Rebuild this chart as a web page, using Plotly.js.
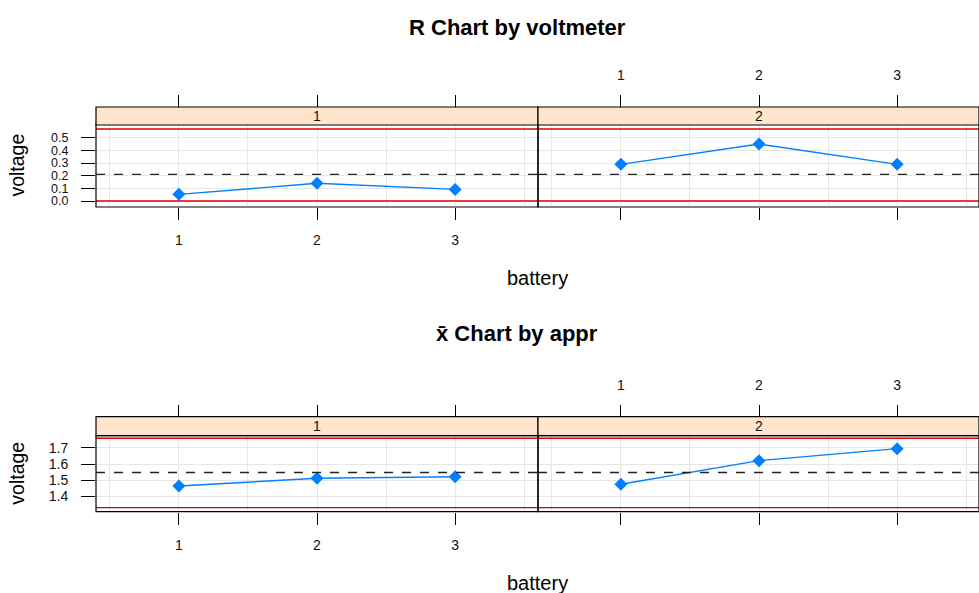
<!DOCTYPE html>
<html>
<head>
<meta charset="utf-8">
<script src="https://cdn.plot.ly/plotly-3.0.1.min.js"></script>
<style>html,body{margin:0;padding:0;background:#fff}#chart{width:979px;height:593px}</style>
</head>
<body>
<div id="chart"></div>
<script>
// ---- data ----
const battery = [1, 2, 3];
const panelLabels = ['1', '2'];
// R chart by voltmeter
const rangeVolt1 = [0.053, 0.14, 0.092];
const rangeVolt2 = [0.29, 0.45, 0.29];
const rCenter = 0.211;
const rUCL = 0.569;
const rLCL = 0.0;
const rTicks = [0.0, 0.1, 0.2, 0.3, 0.4, 0.5];
// x-bar chart by appr
const meanAppr1 = [1.465, 1.512, 1.522];
const meanAppr2 = [1.475, 1.621, 1.695];
const xCenter = 1.548;
const xUCL = 1.759;
const xLCL = 1.331;
const xbarTicks = [1.4, 1.5, 1.6, 1.7];

// ---- layout helpers ----
const W = 979, H = 593;
const px = v => v / W;
const py = v => 1 - v / H;
const FONT = 'Liberation Sans, Arial, sans-serif';
const unit = (538 - 96) / 3.2;
const xRange1 = [0.4, 3.6];
const xRange2 = [0.4, 0.4 + (W - 538) / unit];
const dom1 = [px(96), px(538)];
const dom2 = [px(538), 1];
const GRID = '#e6e6e6';

function baseX(domain, range, anchor, labels) {
  return {
    domain: domain, range: range, anchor: anchor, fixedrange: true,
    tickvals: battery, ticktext: battery.map(String), showticklabels: labels,
    ticks: 'outside', ticklen: 12, tickwidth: 1, tickcolor: '#000',
    ticklabelstandoff: 8,
    showgrid: true, gridcolor: GRID, gridwidth: 1, zeroline: false, showline: false,
    minor: {tick0: 0.5, dtick: 0.5, showgrid: true, gridcolor: GRID, gridwidth: 1, ticks: ''},
    tickfont: {family: FONT, size: 14, color: '#111'}
  };
}
function topX(over, pos, labels) {
  return {
    overlaying: over, anchor: 'free', position: pos, side: 'top', fixedrange: true,
    range: over === 'x' || over === 'x3' ? xRange1 : xRange2,
    tickvals: battery, ticktext: battery.map(String), showticklabels: labels,
    ticks: 'outside', ticklen: 12, tickwidth: 1, tickcolor: '#000',
    ticklabelstandoff: 9,
    showgrid: false, zeroline: false, showline: false,
    tickfont: {family: FONT, size: 14, color: '#111'}
  };
}
function baseY(domain, range, anchor, ticks, fsize) {
  return {
    domain: domain, range: range, anchor: anchor, fixedrange: true,
    tickvals: ticks, tickformat: '.1f',
    ticks: 'outside', ticklen: 14, tickwidth: 1, tickcolor: '#000',
    ticklabelstandoff: 10,
    showgrid: true, gridcolor: GRID, gridwidth: 1, zeroline: false, showline: false,
    tickfont: {family: FONT, size: fsize, color: '#111'}
  };
}

const ptStyle = {
  mode: 'lines+markers',
  line: {color: '#0080ff', width: 1.4},
  marker: {symbol: 'diamond', size: 10, color: '#0080ff'},
  hoverinfo: 'skip', showlegend: false
};
const nulls = battery.map(() => null);
const traces = [
  Object.assign({x: battery, y: rangeVolt1, xaxis: 'x', yaxis: 'y'}, ptStyle),
  Object.assign({x: battery, y: rangeVolt2, xaxis: 'x2', yaxis: 'y'}, ptStyle),
  Object.assign({x: battery, y: meanAppr1, xaxis: 'x3', yaxis: 'y2'}, ptStyle),
  Object.assign({x: battery, y: meanAppr2, xaxis: 'x4', yaxis: 'y2'}, ptStyle),
  {x: battery, y: nulls, xaxis: 'x5', yaxis: 'y', mode: 'markers', showlegend: false, hoverinfo: 'skip'},
  {x: battery, y: nulls, xaxis: 'x6', yaxis: 'y', mode: 'markers', showlegend: false, hoverinfo: 'skip'},
  {x: battery, y: nulls, xaxis: 'x7', yaxis: 'y2', mode: 'markers', showlegend: false, hoverinfo: 'skip'},
  {x: battery, y: nulls, xaxis: 'x8', yaxis: 'y2', mode: 'markers', showlegend: false, hoverinfo: 'skip'}
];

const shapes = [];
const annotations = [];
function limitLines(xa, ya, ucl, cl, lcl) {
  [ucl, lcl].forEach(v => shapes.push({type: 'line', xref: xa + ' domain', yref: ya,
    x0: 0, x1: 1, y0: v, y1: v, line: {color: '#dd0000', width: 1.4}, layer: 'above'}));
  shapes.push({type: 'line', xref: xa + ' domain', yref: ya, x0: 0, x1: 1, y0: cl, y1: cl,
    line: {color: '#222', width: 1.4, dash: 'dash'}, layer: 'above'});
}
function panelFrame(xa, ya, stripTop, stripBot, label) {
  shapes.push({type: 'rect', xref: xa + ' domain', yref: ya + ' domain', x0: 0, x1: 1, y0: 0, y1: 1,
    line: {color: '#000', width: 1.2}, layer: 'above'});
  shapes.push({type: 'rect', xref: xa + ' domain', yref: 'paper', x0: 0, x1: 1, y0: py(stripBot), y1: py(stripTop),
    fillcolor: '#ffe5cc', line: {color: '#000', width: 1.2}, layer: 'above'});
  annotations.push({xref: xa + ' domain', yref: 'paper', x: 0.5, y: py((stripTop + stripBot) / 2),
    text: label, showarrow: false, xanchor: 'center', yanchor: 'middle',
    font: {family: FONT, size: 14, color: '#111'}});
}
limitLines('x', 'y', rUCL, rCenter, rLCL);
limitLines('x2', 'y', rUCL, rCenter, rLCL);
limitLines('x3', 'y2', xUCL, xCenter, xLCL);
limitLines('x4', 'y2', xUCL, xCenter, xLCL);
panelFrame('x', 'y', 107, 125, panelLabels[0]);
panelFrame('x2', 'y', 107, 125, panelLabels[1]);
panelFrame('x3', 'y2', 416.7, 435.7, panelLabels[0]);
panelFrame('x4', 'y2', 416.7, 435.7, panelLabels[1]);

function txt(text, x, y, size, angle) {
  annotations.push({xref: 'paper', yref: 'paper', x: px(x), y: py(y), text: text, showarrow: false,
    xanchor: 'center', yanchor: 'middle', textangle: angle || 0,
    font: {family: FONT, size: size, color: '#000'}});
}
txt('<b>R Chart by voltmeter</b>', 517, 28, 22);
txt('<b>x\u0304 Chart by appr</b>', 517, 333, 22);
txt('battery', 537, 278, 20);
txt('battery', 537, 583, 20);
txt('voltage', 17, 165.6, 19.5, -90);
txt('voltage', 17, 473.7, 19.5, -90);

const layout = {
  width: W, height: H,
  margin: {l: 0, r: 0, t: 0, b: 0},
  paper_bgcolor: '#fff', plot_bgcolor: '#fff',
  showlegend: false,
  xaxis: baseX(dom1, xRange1, 'y', true),
  xaxis2: baseX(dom2, xRange2, 'y', false),
  xaxis3: baseX(dom1, xRange1, 'y2', true),
  xaxis4: baseX(dom2, xRange2, 'y2', false),
  xaxis5: topX('x', py(107), false),
  xaxis6: topX('x2', py(107), true),
  xaxis7: topX('x3', py(416.7), false),
  xaxis8: topX('x4', py(416.7), true),
  yaxis: baseY([py(207), py(124.3)], [-0.047, 0.606], 'x', rTicks, 12.5),
  yaxis2: baseY([py(511.7), py(435.7)], [1.306, 1.775], 'x3', xbarTicks, 14),
  shapes: shapes,
  annotations: annotations
};

Plotly.newPlot('chart', traces, layout, {staticPlot: true, displayModeBar: false});
</script>
</body>
</html>
